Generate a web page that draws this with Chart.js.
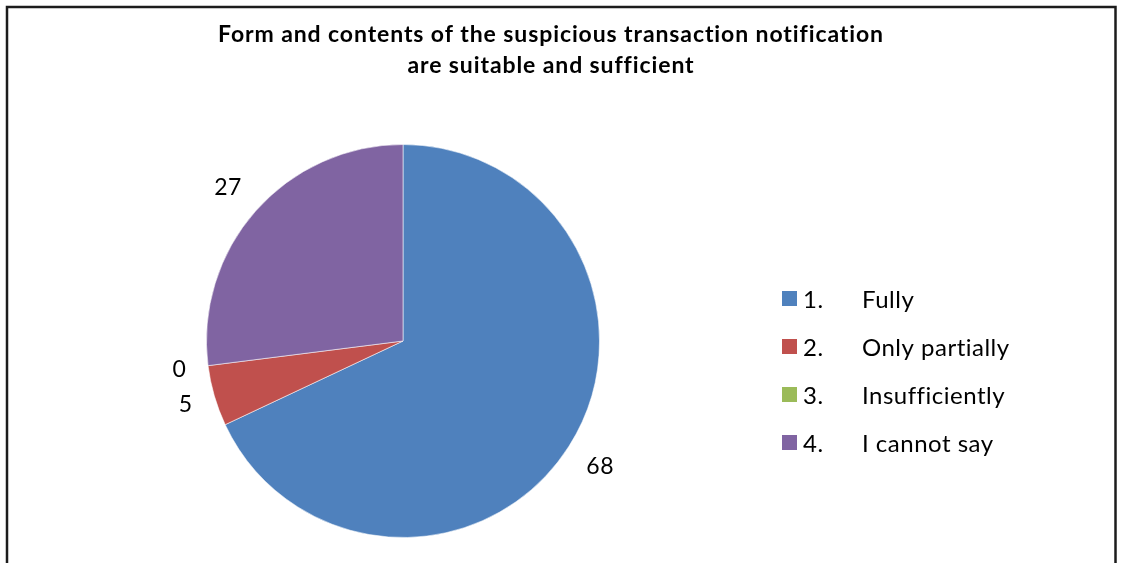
<!DOCTYPE html>
<html lang="en">
<head>
  <meta charset="UTF-8" />
  <title>Suspicious transaction notification</title>
  <script src="https://cdn.jsdelivr.net/npm/chart.js"></script>
  <style>
    html, body { margin: 0; padding: 0; background: #fff; }
    #wrap { position: relative; width: 1121px; height: 563px; }
  </style>
</head>
<body>
  <div id="wrap"><canvas id="pieChart" width="1121" height="563"></canvas></div>

  <script>
    const titleLines = ['Form and contents of the suspicious transaction notification', 'are suitable and sufficient'];
    const itemNumbers = ['1.', '2.', '3.', '4.'];
    const categories = ['Fully', 'Only partially', 'Insufficiently', 'I cannot say'];
    const answers = [68, 5, 0, 27];
    const sliceColors = ['#4F81BD', '#C0504D', '#9BBB59', '#8064A2'];

    const FONT = 'Lato, "Open Sans", sans-serif';

    // frame, title and legend are painted straight onto the canvas
    const decorations = {
      id: 'decorations',
      beforeDraw(chart) {
        const ctx = chart.ctx;
        ctx.save();
        ctx.strokeStyle = '#1c1c1c';
        ctx.lineWidth = 2.5;
        ctx.strokeRect(7, 7, 1108.5, 600);

        ctx.fillStyle = '#000';
        ctx.font = 'bold 23px ' + FONT;
        ctx.letterSpacing = '0.9px';
        ctx.textAlign = 'center';
        ctx.textBaseline = 'alphabetic';
        titleLines.forEach((line, i) => ctx.fillText(line, 551, 42 + i * 31));
        ctx.restore();
      },
      afterDraw(chart) {
        const ctx = chart.ctx;
        ctx.save();
        ctx.font = '24px ' + FONT;
        ctx.letterSpacing = '0.5px';
        ctx.textAlign = 'left';
        ctx.textBaseline = 'alphabetic';
        categories.forEach((name, i) => {
          const top = 291 + i * 48;
          ctx.fillStyle = sliceColors[i];
          ctx.fillRect(782, top, 15, 15);
          ctx.fillStyle = '#000';
          ctx.fillText(itemNumbers[i], 803, top + 16.5);
          ctx.fillText(name, 862, top + 16.5);
        });
        ctx.restore();
      }
    };

    // value labels just outside each slice
    const outsideLabels = {
      id: 'outsideLabels',
      afterDatasetsDraw(chart) {
        const ctx = chart.ctx;
        const meta = chart.getDatasetMeta(0);
        ctx.save();
        ctx.font = '23px ' + FONT;
        ctx.letterSpacing = '0.5px';
        ctx.fillStyle = '#000';
        ctx.textAlign = 'center';
        ctx.textBaseline = 'alphabetic';
        meta.data.forEach((arc, i) => {
          const p = arc.getProps(['x', 'y', 'startAngle', 'endAngle', 'outerRadius'], true);
          const mid = (p.startAngle + p.endAngle) / 2;
          const cx = Math.cos(mid), cy = Math.sin(mid);
          const text = String(answers[i]);
          const w = ctx.measureText(text).width;
          const h = 16;
          const dist = p.outerRadius + 21 + Math.abs(cx) * w / 2 + Math.abs(cy) * h / 2;
          ctx.fillText(text, p.x + cx * dist, p.y + cy * dist + h / 2);
        });
        ctx.restore();
      }
    };

    new Chart(document.getElementById('pieChart'), {
      type: 'pie',
      data: {
        labels: categories,
        datasets: [{
          data: answers,
          backgroundColor: sliceColors,
          borderColor: 'rgba(255,255,255,0.55)',
          borderWidth: 1
        }]
      },
      options: {
        responsive: false,
        devicePixelRatio: 1,
        animation: false,
        layout: { padding: { left: 206, top: 144, right: 521, bottom: 25 } },
        plugins: {
          legend: { display: false },
          title: { display: false },
          tooltip: { enabled: false }
        }
      },
      plugins: [decorations, outsideLabels]
    });
  </script>
</body>
</html>
